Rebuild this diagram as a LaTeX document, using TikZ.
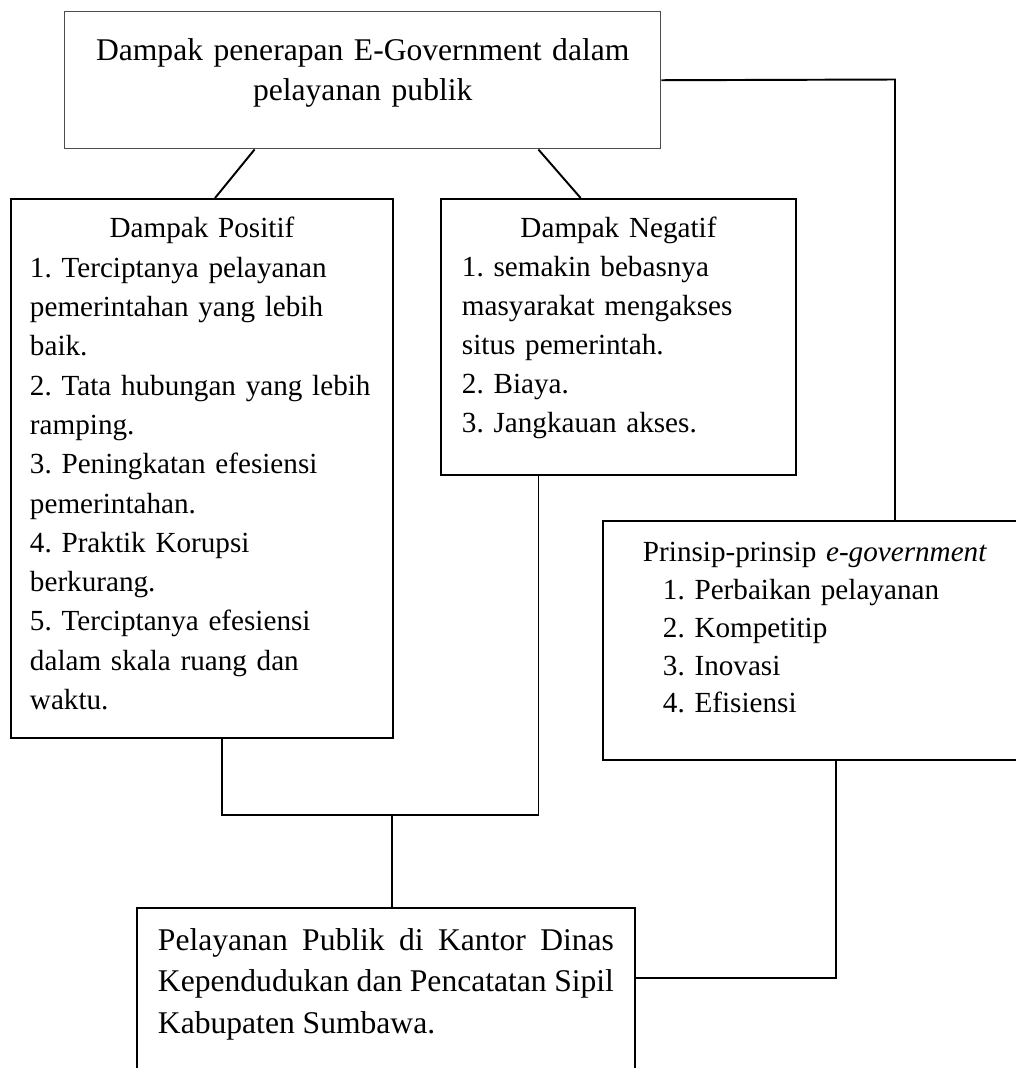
\documentclass[tikz,border=0pt]{standalone}
\usepackage{fontspec}
\setmainfont{Liberation Serif}
\usetikzlibrary{calc}
\newdimen\pxu \pxu=0.4115pt
\frenchspacing

\begin{document}
\begin{tikzpicture}[x=0.4115pt,y=-0.4115pt,line width=0.8pt,
  kotak/.style={draw,anchor=north west,inner ysep=0pt,inner xsep=21\pxu,font=\fontsize{12}{16.1}\selectfont}]
\useasboundingbox (0,0) rectangle (1016,1068);
\node[kotak,draw=black!70,line width=0.6pt,inner xsep=20\pxu,text width=556\pxu,align=center,text height=48.5\pxu,text depth=88.5\pxu,font=\fontsize{13}{16.5}\selectfont] (dampak) at (64,11) {Dampak penerapan E-Government dalam\\pelayanan publik};
\node[kotak,inner xsep=19\pxu,text width=344\pxu,align=left,text height=39\pxu,text depth=500\pxu,font=\fontsize{12}{16.17}\selectfont] (positif) at (10,198) {\makebox[\linewidth]{Dampak Positif}\\1. Terciptanya pelayanan\\pemerintahan yang lebih\\baik.\\2. Tata hubungan yang lebih\\ramping.\\3. Peningkatan efesiensi\\pemerintahan.\\4. Praktik Korupsi\\berkurang.\\5. Terciptanya efesiensi\\dalam skala ruang dan\\waktu.};
\node[kotak,text width=313\pxu,align=left,text height=39\pxu,text depth=237\pxu,font=\fontsize{12}{16.05}\selectfont] (negatif) at (440,198) {\makebox[\linewidth]{Dampak Negatif}\\1. semakin bebasnya\\masyarakat mengakses\\situs pemerintah.\\2. Biaya.\\3. Jangkauan akses.};
\node[kotak,inner xsep=40\pxu,text width=348\pxu,align=left,text height=41\pxu,text depth=198\pxu,font=\fontsize{12}{15.53}\selectfont] (prinsip) at (602,520) {Prinsip-prinsip \textit{e-government}\\\hspace*{20\pxu}1. Perbaikan pelayanan\\\hspace*{20\pxu}2. Kompetitip\\\hspace*{20\pxu}3. Inovasi\\\hspace*{20\pxu}4. Efisiensi};
\node[kotak,text width=456\pxu,align=justify,text height=42.5\pxu,text depth=140.5\pxu,font=\fontsize{13}{17.08}\selectfont] (bawah) at (136,907) {Pelayanan Publik di Kantor Dinas\linebreak Kependudukan dan Pencatatan Sipil\linebreak Kabupaten Sumbawa.};
\coordinate (sudutA) at (895,79.5);\coordinate (gabung) at (392,815);\coordinate (sudutB) at (836,978);
\draw (dampak.east) -- (sudutA) -- (sudutA |- prinsip.north);
\draw ($(dampak.south west)!0.319!(dampak.south east)$) -- ($(positif.north west)!0.534!(positif.north east)$);
\draw ($(dampak.south west)!0.794!(dampak.south east)$) -- ($(negatif.north west)!0.394!(negatif.north east)$);
\draw ($(positif.south west)!0.552!(positif.south east)$) |- (gabung) -| ($(negatif.south west)!0.276!(negatif.south east)$);
\draw (gabung) -- (gabung |- bawah.north);
\draw (sudutB |- prinsip.south) -- (sudutB) -- (sudutB -| bawah.east);
\end{tikzpicture}
\end{document}
